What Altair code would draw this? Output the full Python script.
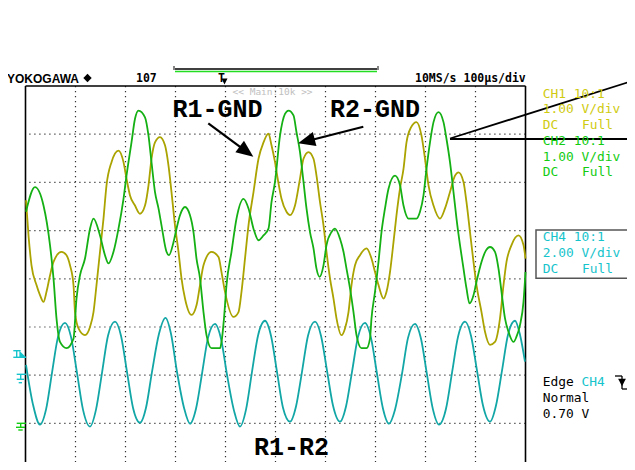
import altair as alt
import pandas as pd

# ---- oscilloscope settings (100 us/div, 10 div) ----
t_domain = [0, 1000]          # microseconds
ch12_vdiv, ch12_ground = 1.0, -3   # CH1/CH2: 1.00 V/div, ground marker at -3 div
ch4_vdiv, ch4_ground = 2.0, -2     # CH4: 2.00 V/div, ground marker at -2 div

# ---- CH1 (R1-GND), volts ----
ch1_t = [1, 6, 12, 22, 29, 36, 42, 49, 56, 72, 82, 89, 96, 99, 106, 119, 129, 136, 142, 149,
         156, 162, 172, 186, 196, 202, 209, 219, 229, 239, 246, 252, 259, 269, 279, 286, 292, 299,
         306, 312, 319, 332, 342, 349, 356, 372, 386, 392, 399, 416, 426, 432, 439, 446, 456, 466,
         476, 486, 492, 499, 505, 512, 522, 529, 539, 549, 556, 566, 576, 582, 589, 596, 602, 609,
         616, 622, 632, 639, 646, 652, 659, 669, 682, 692, 699, 706, 716, 722, 729, 736, 742, 749,
         756, 762, 771, 782, 792, 799, 806, 816, 829, 839, 849, 859, 866, 876, 882, 889, 896, 902,
         912, 919, 929, 939, 949, 956, 962, 972, 986, 996, 1000]
ch1_v = [4.63, 3.90, 3.28, 2.87, 2.66, 2.52, 2.73, 3.07, 3.35, 3.56, 3.49, 3.28, 2.87, 2.31, 1.97,
         1.83, 2.00, 2.31, 2.87, 3.56, 4.25, 4.94, 5.42, 5.66, 5.42, 5.08, 4.73, 4.52, 4.35, 4.52,
         4.94, 5.49, 5.83, 5.94, 5.77, 5.35, 4.80, 4.11, 3.56, 3.01, 2.59, 2.25, 2.45, 2.87, 3.28,
         3.56, 3.45, 3.14, 2.73, 2.21, 2.31, 2.73, 3.42, 4.11, 4.80, 5.49, 5.83, 6.01, 5.77, 5.42,
         5.04, 4.66, 4.39, 4.32, 4.52, 5.08, 5.49, 5.63, 5.49, 5.14, 4.59, 4.11, 3.56, 3.01, 2.59,
         2.18, 1.83, 1.97, 2.31, 2.87, 3.28, 3.49, 3.63, 3.42, 3.14, 2.87, 2.59, 2.73, 3.14, 3.76,
         4.32, 4.87, 5.28, 5.83, 6.14, 6.25, 5.97, 5.49, 4.94, 4.52, 4.25, 4.46, 4.80, 5.14, 5.21,
         5.01, 4.59, 3.97, 3.35, 2.87, 2.31, 1.90, 1.63, 1.69, 2.18, 2.87, 3.35, 3.70, 3.90, 3.70,
         3.42]

# ---- CH2 (R2-GND), volts ----
ch2_t = [1, 19, 36, 49, 56, 62, 69, 82, 96, 102, 109, 119, 129, 136, 149, 159, 166, 176, 186, 196,
         202, 212, 219, 226, 239, 246, 252, 259, 266, 272, 282, 287, 296, 302, 309, 319, 329, 336,
         342, 349, 356, 362, 372, 389, 392, 397, 402, 412, 422, 436, 446, 456, 466, 476, 486, 492,
         499, 509, 519, 526, 536, 542, 549, 556, 562, 569, 576, 582, 588, 596, 602, 612, 619, 629,
         636, 642, 649, 656, 662, 672, 682, 689, 692, 699, 706, 712, 719, 726, 739, 749, 756, 766,
         782, 789, 796, 802, 809, 816, 826, 836, 842, 849, 856, 862, 869, 876, 882, 888, 896, 902,
         912, 921, 929, 939, 946, 952, 959, 966, 976, 982, 989, 996, 1000]
ch2_v = [4.39, 4.90, 4.52, 3.70, 3.01, 2.18, 1.69, 1.56, 1.76, 2.59, 3.07, 3.42, 4.04, 4.25, 3.90,
         3.49, 3.32, 3.56, 4.04, 4.66, 5.14, 5.83, 6.32, 6.49, 6.35, 5.97, 5.42, 4.80, 4.46, 4.11,
         3.56, 3.49, 3.76, 4.04, 4.32, 4.49, 4.32, 3.97, 3.42, 3.01, 2.31, 1.83, 1.56, 1.56, 1.69,
         2.18, 2.87, 3.56, 4.25, 4.66, 4.46, 4.04, 3.80, 3.90, 4.04, 4.59, 5.01, 5.97, 6.42, 6.49,
         6.39, 6.04, 5.63, 5.01, 4.46, 3.97, 3.63, 3.21, 3.04, 3.28, 3.70, 3.97, 4.04, 3.83, 3.56,
         3.21, 2.80, 2.31, 1.83, 1.56, 1.56, 1.76, 2.18, 2.73, 3.35, 3.97, 4.46, 4.87, 5.14, 4.94,
         4.52, 4.25, 4.25, 4.39, 4.73, 5.28, 5.83, 6.25, 6.46, 6.25, 5.90, 5.42, 4.80, 4.25, 3.70,
         3.21, 2.80, 2.49, 2.66, 2.94, 3.35, 3.59, 3.66, 3.56, 3.21, 2.73, 2.18, 1.90, 1.69, 1.80,
         2.04, 2.52, 3.14]

# ---- CH4 (R1-R2), volts ----
ch4_t = [1, 15, 29, 41, 53, 65, 79, 91, 103, 115, 129, 141, 153, 165, 179, 191, 203, 215, 229, 241,
         253, 267, 280, 291, 303, 317, 329, 341, 353, 365, 379, 391, 403, 417, 429, 441, 453, 465,
         479, 491, 503, 515, 529, 541, 553, 565, 579, 591, 603, 615, 629, 641, 653, 665, 679, 691,
         703, 715, 727, 739, 753, 765, 779, 791, 803, 815, 827, 841, 853, 865, 879, 891, 903, 915,
         929, 941, 953, 965, 979, 989, 999]
ch4_v = [0.43, -1.22, -2.05, -1.43, 0.10, 1.59, 2.17, 1.59, 0.10, -1.43, -2.13, -1.43, 0.10, 1.64,
         2.22, 1.64, 0.14, -1.35, -1.97, -1.35, 0.14, 1.72, 2.38, 1.72, 0.14, -1.35, -2.01, -1.39,
         0.06, 1.55, 2.13, 1.51, 0.02, -1.47, -2.13, -1.43, 0.14, 1.64, 2.26, 1.64, 0.14, -1.35,
         -1.93, -1.30, 0.14, 1.64, 2.22, 1.64, 0.19, -1.26, -1.93, -1.30, 0.14, 1.59, 2.17, 1.55,
         0.06, -1.39, -2.01, -1.43, 0.06, 1.55, 2.13, 1.51, 0.02, -1.43, -2.05, -1.39, 0.10, 1.59,
         2.22, 1.64, 0.19, -1.26, -1.93, -1.26, 0.19, 1.68, 2.26, 1.68, 0.56]

grid_t = [100, 200, 300, 400, 500, 600, 700, 800, 900]
grid_div = [-3, -2, -1, 0, 1, 2, 3]

C1_TRACE, C2_TRACE, C4_TRACE = "#aaa300", "#14b014", "#12a6a6"
C1_TEXT, C2_TEXT, C4_TEXT = "#cfcb10", "#12cc12", "#16c4cc"

# plot area: 500 px for 10 div; 48.2 px per vertical div, bottom of screen cut off
W = 500
PX_PER_DIV = 48.2
H = 376
div_domain = [4 - H / PX_PER_DIV, 4]

XS = alt.Scale(domain=t_domain, nice=False, zero=False)
YS = alt.Scale(domain=div_domain, nice=False, zero=False)


def trace_df(ts, vs, vdiv, ground):
    return pd.DataFrame({"t": ts, "div": [v / vdiv + ground for v in vs]})


def trace(df, color):
    return alt.Chart(df).mark_line(color=color, strokeWidth=1.8, interpolate="monotone").encode(
        x=alt.X("t:Q", scale=XS, axis=None),
        y=alt.Y("div:Q", scale=YS, axis=None),
    )


vgrid = alt.Chart(pd.DataFrame({"t": grid_t})).mark_rule(
    color="#333333", strokeWidth=1.2, strokeDash=[1.2, 3.8]
).encode(x=alt.X("t:Q", scale=XS, axis=None))
hgrid = alt.Chart(pd.DataFrame({"div": grid_div})).mark_rule(
    color="#333333", strokeWidth=1.2, strokeDash=[1.2, 3.8]
).encode(y=alt.Y("div:Q", scale=YS, axis=None))
vborder = alt.Chart(pd.DataFrame({"t": t_domain})).mark_rule(color="black", strokeWidth=1.6).encode(
    x=alt.X("t:Q", scale=XS, axis=None))
hborder = alt.Chart(pd.DataFrame({"div": [4]})).mark_rule(color="black", strokeWidth=1.6).encode(
    y=alt.Y("div:Q", scale=YS, axis=None))

tr1 = trace(trace_df(ch1_t, ch1_v, ch12_vdiv, ch12_ground), C1_TRACE)
tr2 = trace(trace_df(ch2_t, ch2_v, ch12_vdiv, ch12_ground), C2_TRACE)
tr4 = trace(trace_df(ch4_t, ch4_v, ch4_vdiv, ch4_ground), C4_TRACE)

# ---- annotation / screen decorations (pixel positions in plot area) ----
segs = pd.DataFrame([
    # arrows
    (182.8, 37.3, 221.0, 65.6, "black", 2.2),
    (337.8, 40.7, 280.9, 55.2, "black", 2.2),
    (424.5, 52.5, 614.5, -7.5, "black", 1.8),
    (424.5, 53.0, 614.5, 53.0, "black", 1.8),
    # zoom bar at top
    (149.5, -17.0, 351.5, -17.0, "black", 1.5),
    (149.5, -14.5, 351.5, -14.5, "#22dd22", 1.5),
    (148.5, -20.0, 148.5, -16.0, "#333333", 1.2),
    (352.5, -20.0, 352.5, -16.0, "#333333", 1.2),
    # trigger slope icon
    (589.5, 290.0, 596.5, 290.0, "black", 1.3),
    (596.5, 290.0, 596.5, 303.0, "black", 1.3),
    (596.5, 303.0, 604.5, 303.0, "black", 1.3),
    # trigger level marker (cyan)
    (-12.2, 264.7, -4.8, 264.7, C4_TEXT, 1.4),
    (-8.8, 264.7, -8.8, 271.3, C4_TEXT, 1.4),
    (-12.2, 271.3, 0.5, 271.3, C4_TEXT, 1.4),
    # CH4 ground
    (-8.8, 288.3, 0.5, 288.3, C4_TEXT, 1.4),
    (-4.8, 288.3, -4.8, 293.3, C4_TEXT, 1.4),
    (-8.8, 293.3, -1.5, 293.3, C4_TEXT, 1.4),
    (-6.8, 296.7, -3.5, 296.7, C4_TEXT, 1.4),
    # CH1/CH2 ground
    (-8.8, 337.3, 0.5, 337.3, C2_TEXT, 1.4),
    (-4.8, 337.3, -4.8, 341.3, C2_TEXT, 1.4),
    (-9.5, 341.3, -0.5, 341.3, C2_TEXT, 1.4),
    (-7.2, 344.0, -2.8, 344.0, C2_TEXT, 1.4),
], columns=["x", "y", "x2", "y2", "c", "w"])

seg_layer = alt.Chart(segs).mark_rule().encode(
    x=alt.X("x:Q", scale=None), y=alt.Y("y:Q", scale=None),
    x2="x2:Q", y2="y2:Q",
    color=alt.Color("c:N", scale=None),
    strokeWidth=alt.StrokeWidth("w:Q", scale=None),
)

heads = pd.DataFrame({"x": [221.0, 280.9], "y": [65.6, 55.2], "a": [126.6, 255.7]})
head_layer = alt.Chart(heads).mark_point(
    shape="M0,-1L0.85,1L-0.85,1Z", filled=True, color="black", opacity=1, size=289, strokeWidth=0
).encode(x=alt.X("x:Q", scale=None), y=alt.Y("y:Q", scale=None), angle=alt.Angle("a:Q", scale=None))


def one_point(x, y, shape, size, color):
    return alt.Chart(pd.DataFrame({"x": [x], "y": [y]})).mark_point(
        shape=shape, filled=True, color=color, opacity=1, size=size, strokeWidth=0
    ).encode(x=alt.X("x:Q", scale=None), y=alt.Y("y:Q", scale=None))


trig_arrow = one_point(596.5, 296.5, "M-1,-1L1,-1L0,1Z", 60, "black")
trig_level = one_point(-2.8, 268.0, "M-1,-1L-1,1L1,1Z", 45, C4_TEXT)
tpos_arrow = one_point(199.0, -4.5, "M-1,-1L1,-1L0,1Z", 36, "black")
diamond = one_point(62.0, -8.0, "diamond", 70, "black")

box = alt.Chart(pd.DataFrame({"x": [510.5], "x2": [640.0], "y": [144.0], "y2": [192.3]})).mark_rect(
    fillOpacity=0, stroke="#555555", strokeWidth=1.5
).encode(x=alt.X("x:Q", scale=None), x2="x2:Q", y=alt.Y("y:Q", scale=None), y2="y2:Q")


def texts(rows, font, size, weight="normal", align="left"):
    df = pd.DataFrame(rows, columns=["text", "x", "y", "c"])
    return alt.Chart(df).mark_text(
        font=font, fontSize=size, fontWeight=weight, align=align, baseline="alphabetic"
    ).encode(
        x=alt.X("x:Q", scale=None), y=alt.Y("y:Q", scale=None),
        text="text:N", color=alt.Color("c:N", scale=None),
    )


panel = texts([
    ("CH1 10:1", 517.2, 11.5, C1_TEXT),
    ("1.00 V/div", 517.2, 27.0, C1_TEXT),
    ("DC", 517.2, 42.5, C1_TEXT), ("Full", 556.5, 42.5, C1_TEXT),
    ("CH2 10:1", 517.2, 59.0, C2_TEXT),
    ("1.00 V/div", 517.2, 74.5, C2_TEXT),
    ("DC", 517.2, 90.0, C2_TEXT), ("Full", 556.5, 90.0, C2_TEXT),
    ("CH4 10:1", 517.2, 155.0, C4_TEXT),
    ("2.00 V/div", 517.2, 171.0, C4_TEXT),
    ("DC", 517.2, 187.0, C4_TEXT), ("Full", 556.5, 187.0, C4_TEXT),
    ("Edge", 517.2, 299.5, "black"), ("CH4", 556.0, 299.5, C4_TEXT),
    ("Normal", 517.2, 316.0, "black"),
    ("0.70 V", 517.2, 332.0, "black"),
], "DejaVu Sans Mono", 12.9)

header_mono = texts([
    ("107", 110.5, -4.0, "black"),
    ("10MS/s 100µs/div", 389.5, -4.0, "black"),
    ("T", 192.5, -4.0, "black"),
], "DejaVu Sans Mono", 11.5, "bold")

header_sans = texts([("YOKOGAWA", -18.5, -3.0, "black")], "Liberation Sans", 12, "bold")

main_tag = texts([("<< Main:10k >>", 207.0, 8.5, "#c0c0c0")], "DejaVu Sans Mono", 9.5)

labels = texts([
    ("R1-GND", 192.0, 31.0, "black"),
    ("R2-GND", 349.5, 31.0, "black"),
    ("R1-R2", 266.0, 369.0, "black"),
], "Liberation Mono", 25, "bold", "center")

chart = alt.layer(
    vgrid, hgrid, vborder, hborder,
    tr4, tr1, tr2,
    box, seg_layer, head_layer, trig_arrow, trig_level, tpos_arrow, diamond,
    panel, header_mono, header_sans, main_tag, labels,
).resolve_scale(
    x="independent", y="independent"
).properties(
    width=W, height=H,
    autosize="none",
    padding={"left": 17.5, "top": 78, "right": 101.5, "bottom": 0},
    background="white",
).configure_view(stroke=None)

chart.save("out.html", embed_options={"renderer": "svg", "actions": False})
